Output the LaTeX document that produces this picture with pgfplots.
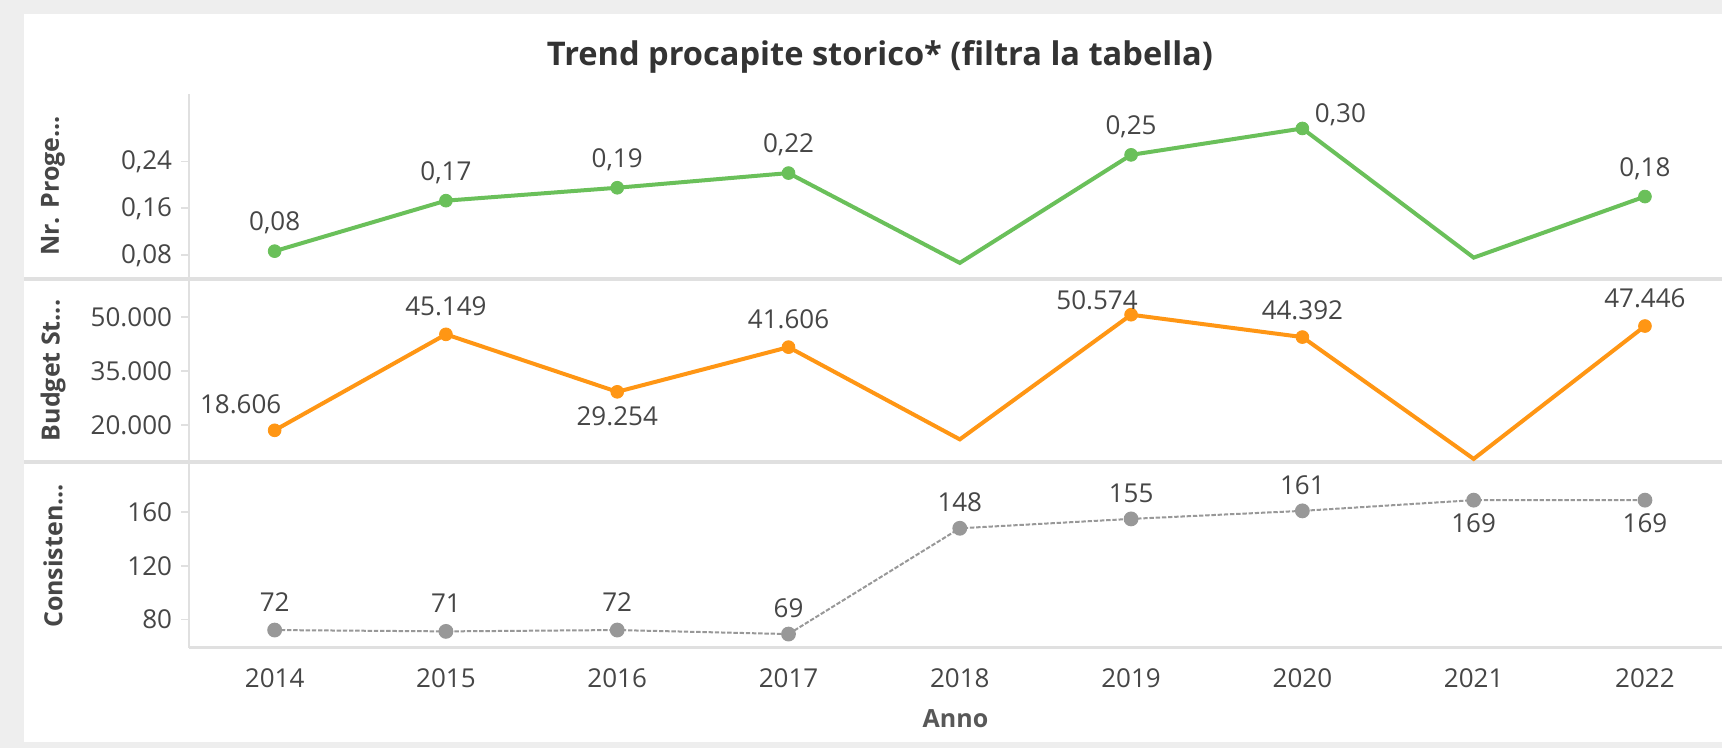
\documentclass[border=0pt]{standalone}
\usepackage{pgfplots}
\pgfplotsset{compat=1.18}
\usepackage{pgfplotstable}
\usepackage{fontspec}
\setmainfont{Open Sans}
\definecolor{cgreen}{RGB}{106,192,90}
\definecolor{corange}{RGB}{255,150,20}
\definecolor{cgray}{RGB}{152,152,152}
\definecolor{ctext}{RGB}{70,70,70}
\definecolor{ctitle}{RGB}{51,51,51}
\definecolor{cline}{RGB}{224,224,224}
\definecolor{cbg}{RGB}{238,238,238}

% line data (all years)
\pgfplotstableread{
x y
2014 0.087
2015 0.173
2016 0.195
2017 0.220
2018 0.067
2019 0.251
2020 0.296
2021 0.076
2022 0.180
}\progline
\pgfplotstableread{
x y lab dx dy
2014 0.087 {0,08} 0 14
2015 0.173 {0,17} 0 14
2016 0.195 {0,19} 0 14
2017 0.220 {0,22} 0 14
2019 0.251 {0,25} 0 14
2020 0.296 {0,30} 19 7
2022 0.180 {0,18} 0 14
}\progpts
\pgfplotstableread{
x y
2014 18606
2015 45149
2016 29254
2017 41606
2018 16100
2019 50574
2020 44392
2021 10700
2022 47446
}\budline
\pgfplotstableread{
x y lab dx dy
2014 18606 18.606 -17 13
2015 45149 45.149 0 14
2016 29254 29.254 0 -12
2017 41606 41.606 0 14
2019 50574 50.574 -17 7
2020 44392 44.392 0 13.5
2022 47446 47.446 0 14
}\budpts
\pgfplotstableread{
x y lab dx dy
2014 72 72 0 14
2015 71 71 0 14
2016 72 72 0 14
2017 69 69 0 13
2018 148 148 0 13
2019 155 155 0 13
2020 161 161 0 13
2021 169 169 0 -11.5
2022 169 169 0 -11.5
}\conpts

\pgfplotsset{
  panel/.style={
    scale only axis,
    width=766.5pt,
    xmin=2013.5, xmax=2022.45,
    axis line style={draw=none},
    xtick=\empty,
    ytick pos=left,
    tick align=outside,
    major tick length=4pt,
    scaled y ticks=false,
    tick style={draw=cline, line width=0.8pt},
    yticklabel style={font=\fontsize{13}{15}\selectfont, text=ctext, xshift=-1pt},
    ylabel style={at={(axis description cs:-0.0887,0.5)}, anchor=center, rotate=0,
      font=\fontsize{12.5}{15}\selectfont\bfseries, text=ctext},
    clip=false,
    anchor=south west,
  },
  lbl/.style={
    point meta=explicit symbolic,
    visualization depends on={\thisrow{dx}\as\dx},
    visualization depends on={\thisrow{dy}\as\dy},
    nodes near coords,
    nodes near coords style={anchor=center, xshift=\dx pt, yshift=\dy pt,
      font=\fontsize{13}{15}\selectfont, text=ctext, inner sep=0pt},
  },
}

\begin{document}
\begin{tikzpicture}
\useasboundingbox (0,0) rectangle (861pt,374pt);
\fill[cbg] (0,0) rectangle (861pt,374pt);
\fill[white] (12pt,3pt) rectangle (861pt,367pt);
% panel dividers and axis lines
\draw[cline, line width=2pt] (12pt,234.5pt) -- (861pt,234.5pt);
\draw[cline, line width=2pt] (12pt,143pt) -- (861pt,143pt);
\draw[cline, line width=1.5pt] (94.5pt,50pt) -- (861pt,50pt);
\draw[cline, line width=1pt] (94.5pt,50pt) -- (94.5pt,327pt);

\node[font=\fontsize{16.3}{20}\selectfont\bfseries, text=ctitle] at (440pt,345.5pt) {Trend procapite storico* (filtra la tabella)};

% Panel 1
\begin{axis}[panel, at={(94.5pt,235.5pt)}, height=91pt,
  ymin=0.043, ymax=0.353,
  ytick={0.08,0.16,0.24}, yticklabels={{0,08},{0,16},{0,24}},
  ylabel={Nr. Proge...}]
\addplot[cgreen, line width=2pt, no marks] table[x=x,y=y] {\progline};
\addplot[cgreen, only marks, mark=*, mark size=3.2pt, lbl] table[x=x,y=y,meta=lab] {\progpts};
\end{axis}

% Panel 2
\begin{axis}[panel, at={(94.5pt,144pt)}, height=89.5pt,
  ymin=10400, ymax=59900,
  ytick={20000,35000,50000}, yticklabels={20.000,35.000,50.000},
  ylabel={Budget St...}]
\addplot[corange, line width=2pt, no marks] table[x=x,y=y] {\budline};
\addplot[corange, only marks, mark=*, mark size=3.2pt, lbl] table[x=x,y=y,meta=lab] {\budpts};
\end{axis}

% Panel 3
\begin{axis}[panel, at={(94.5pt,50pt)}, height=92pt,
  ymin=58.6, ymax=196,
  ytick={80,120,160}, yticklabels={80,120,160},
  xtick={2014,2015,2016,2017,2018,2019,2020,2021,2022},
  xticklabels={2014,2015,2016,2017,2018,2019,2020,2021,2022},
  xtick style={draw=none},
  xticklabel style={font=\fontsize{13}{15}\selectfont, text=ctext, yshift=-3pt},
  xlabel={Anno},
  xlabel style={font=\fontsize{12.5}{15}\selectfont\bfseries, text=ctext!90, at={(axis description cs:0.5,-0.385)}, anchor=center},
  ylabel={Consisten...}]
\addplot[cgray, line width=1pt, dash pattern=on 2.2pt off 0.9pt, mark=*, mark size=3.2pt,
  mark options={solid}, lbl] table[x=x,y=y,meta=lab] {\conpts};
\end{axis}
\end{tikzpicture}
\end{document}
